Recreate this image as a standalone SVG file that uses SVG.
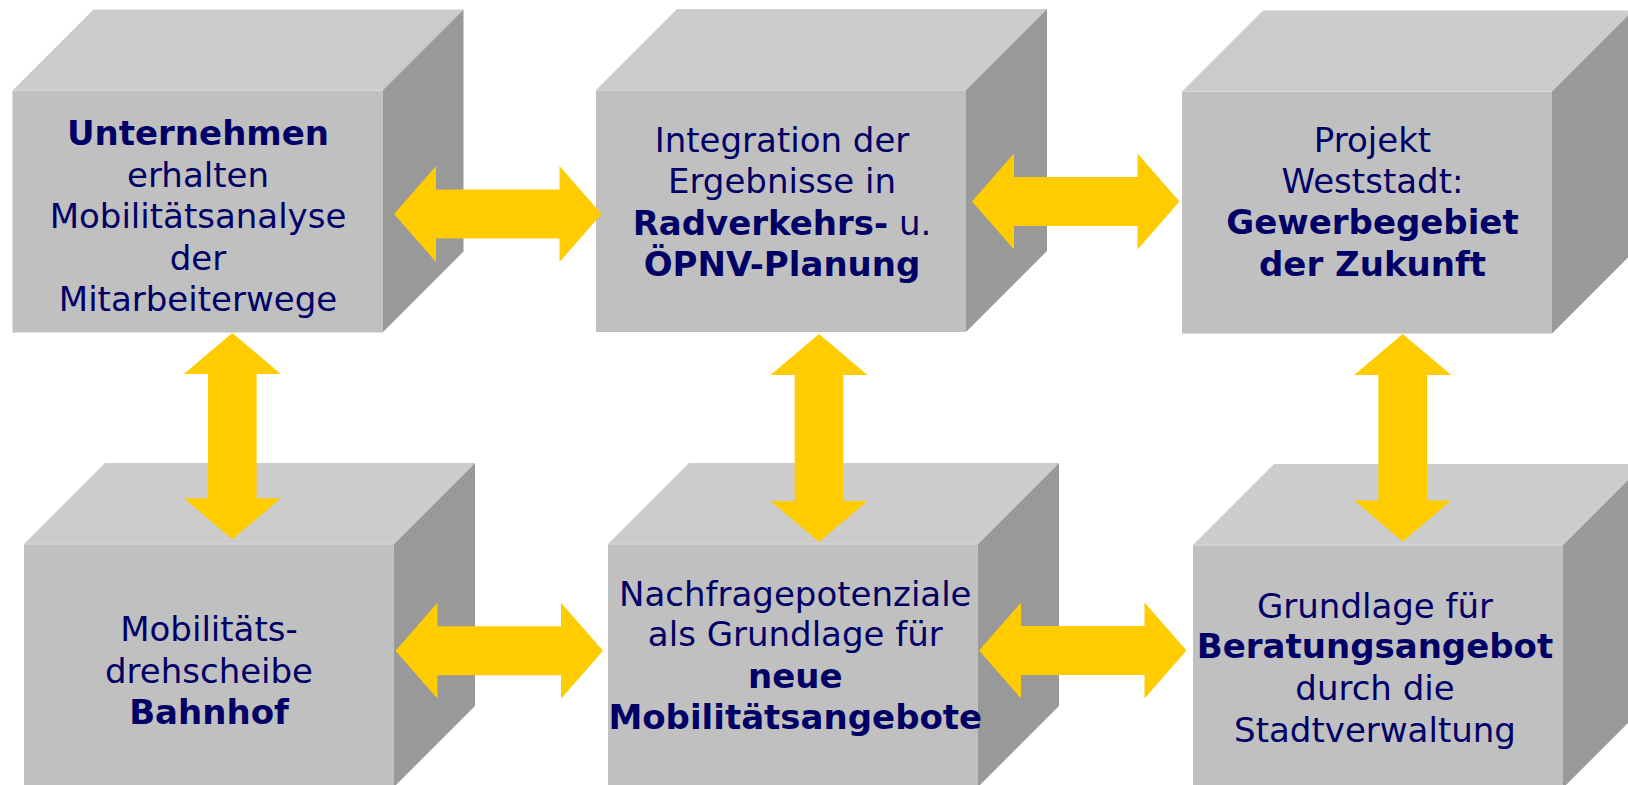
<svg xmlns="http://www.w3.org/2000/svg" width="1628" height="785" viewBox="0 0 1628 785">
<style>
.front{fill:#C0C0C0}
.top{fill:#CCCCCC}
.side{fill:#999999}
.edge{fill:none;stroke:#D9D9D9;stroke-width:1}
.arrow{fill:#FFCC00}
text{font-family:"DejaVu Sans","Verdana","Liberation Sans",sans-serif;font-size:34px;fill:#000066;text-anchor:middle}
.b{font-weight:bold}
</style>
<rect width="1628" height="785" fill="#FFFFFF"/>
<g id="box1">
<polygon class="top" points="12.5,90.5 93.5,9.5 463.5,9.5 382.5,90.5"/>
<polygon class="side" points="382.5,90.5 463.5,9.5 463.5,251.5 382.5,332.5"/>
<rect class="front" x="12.5" y="90.5" width="370" height="242"/>
<polyline class="edge" points="12.5,90.5 382.5,90.5"/>
<text x="198" y="145"><tspan class="b">Unternehmen</tspan></text>
<text x="198" y="186.7">erhalten</text>
<text x="198" y="228.3">Mobilitätsanalyse</text>
<text x="198" y="269.5">der</text>
<text x="198" y="311">Mitarbeiterwege</text>
</g>
<g id="box2">
<polygon class="top" points="596,90 677,9 1047,9 966,90"/>
<polygon class="side" points="966,90 1047,9 1047,251 966,332"/>
<rect class="front" x="596" y="90" width="370" height="242"/>
<polyline class="edge" points="596,90 966,90"/>
<text x="782" y="151.7">Integration der</text>
<text x="782" y="193.3">Ergebnisse in</text>
<text x="782" y="235"><tspan class="b">Radverkehrs-</tspan> u.</text>
<text x="782" y="276" class="b">ÖPNV-Planung</text>
</g>
<g id="box3">
<polygon class="top" points="1182,91.5 1263,10.5 1633,10.5 1552,91.5"/>
<polygon class="side" points="1552,91.5 1633,10.5 1633,252.5 1552,333.5"/>
<rect class="front" x="1182" y="91.5" width="370" height="242"/>
<polyline class="edge" points="1182,91.5 1552,91.5"/>
<text x="1372.5" y="151.7">Projekt</text>
<text x="1372.5" y="193.3">Weststadt:</text>
<text x="1372.5" y="233.5" class="b">Gewerbegebiet</text>
<text x="1372.5" y="276" class="b">der Zukunft</text>
</g>
<g id="box4">
<polygon class="top" points="24,544 105,463 475,463 394,544"/>
<polygon class="side" points="394,544 475,463 475,706 394,787"/>
<rect class="front" x="24" y="544" width="370" height="243"/>
<polyline class="edge" points="24,544 394,544"/>
<text x="209" y="641">Mobilitäts-</text>
<text x="209" y="682.5">drehscheibe</text>
<text x="209" y="724.3" class="b">Bahnhof</text>
</g>
<g id="box5">
<polygon class="top" points="608,544 689,463 1059,463 978,544"/>
<polygon class="side" points="978,544 1059,463 1059,706 978,787"/>
<rect class="front" x="608" y="544" width="370" height="243"/>
<polyline class="edge" points="608,544 978,544"/>
<text x="795.3" y="605.7">Nachfragepotenziale</text>
<text x="795.3" y="645.7">als Grundlage für</text>
<text x="795.3" y="688.3" class="b">neue</text>
<text x="795.3" y="729.3" class="b">Mobilitätsangebote</text>
</g>
<g id="box6">
<polygon class="top" points="1193,545 1274,464 1644,464 1563,545"/>
<polygon class="side" points="1563,545 1644,464 1644,707 1563,788"/>
<rect class="front" x="1193" y="545" width="370" height="243"/>
<polyline class="edge" points="1193,545 1563,545"/>
<text x="1375" y="618.3">Grundlage für</text>
<text x="1375" y="658.3" class="b">Beratungsangebot</text>
<text x="1375" y="700">durch die</text>
<text x="1375" y="741.7">Stadtverwaltung</text>
</g>
<g id="connectors">
<polygon class="arrow" points="394,214 436,166 436,189.5 559.5,189.5 559.5,166 601.5,214 559.5,262 559.5,238.5 436,238.5 436,262"/>
<polygon class="arrow" points="972,201.5 1014,153.5 1014,177 1137.5,177 1137.5,153.5 1179.5,201.5 1137.5,249.5 1137.5,226 1014,226 1014,249.5"/>
<polygon class="arrow" points="395.5,650.7 437.5,602.7 437.5,626.2 561,626.2 561,602.7 603,650.7 561,698.7 561,675.2 437.5,675.2 437.5,698.7"/>
<polygon class="arrow" points="979,650.5 1021,602.5 1021,626 1144.5,626 1144.5,602.5 1186.5,650.5 1144.5,698.5 1144.5,675 1021,675 1021,698.5"/>
<polygon class="arrow" points="232.3,333 280.8,374 256.6,374 256.6,498.3 280.8,498.3 232.3,539.3 183.8,498.3 208,498.3 208,374 183.8,374"/>
<polygon class="arrow" points="819,334 867.5,375 843.3,375 843.3,501 867.5,501 819,542 770.5,501 794.7,501 794.7,375 770.5,375"/>
<polygon class="arrow" points="1402.7,334 1451.2,375 1427,375 1427,500.5 1451.2,500.5 1402.7,541.5 1354.2,500.5 1378.4,500.5 1378.4,375 1354.2,375"/>
</g>
</svg>
